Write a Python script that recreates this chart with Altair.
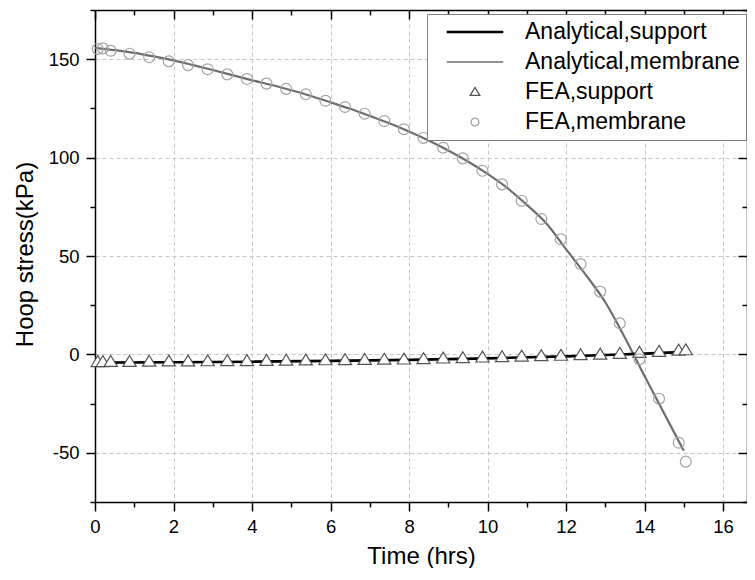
import altair as alt
import pandas as pd

# ---------------- data ----------------
series_names = ["Analytical,support", "Analytical,membrane", "FEA,support", "FEA,membrane"]

# analytical membrane curve
line_mem_t = [0, 0.5, 1, 1.5, 2, 2.5, 3, 3.5, 4, 4.5, 5, 5.5, 6, 6.5, 7, 7.5,
              8, 8.5, 9, 9.5, 10, 10.5, 11, 11.5, 12, 12.5, 13, 13.5, 14, 14.5, 15]
line_mem_v = [155.8, 154.6, 153.2, 151.4, 149.4, 147.0, 144.5, 141.9, 139.3, 136.9,
              134.2, 131.3, 128.1, 124.8, 121.2, 117.5, 113.3, 108.7, 103.6, 98.0,
              91.7, 84.6, 76.0, 66.5, 53.5, 40.5, 26.5, 8.5, -11.0, -30.0, -49.0]

# analytical support curve
line_sup_t = [0, 2, 4, 6, 8, 10, 12, 13, 14, 15.05]
line_sup_v = [-4.2, -4.0, -3.7, -3.3, -2.8, -2.0, -1.0, -0.3, 0.4, 1.3]

# FEA results
fea_t = [0.07, 0.2, 0.4, 0.88, 1.38, 1.88, 2.37, 2.87, 3.37, 3.87, 4.37, 4.87,
         5.37, 5.87, 6.37, 6.87, 7.37, 7.87, 8.37, 8.87, 9.37, 9.87, 10.37, 10.87,
         11.37, 11.87, 12.37, 12.87, 13.37, 13.87, 14.37, 14.87, 15.05]
fea_mem_v = [155.2, 155.5, 154.3, 152.8, 151.0, 148.9, 147.0, 144.9, 142.3, 139.9,
             137.6, 134.9, 132.2, 128.9, 125.7, 122.3, 118.6, 114.4, 110.0, 105.0,
             99.6, 93.3, 86.4, 78.1, 68.8, 58.5, 45.9, 31.9, 15.8, -2.5, -22.5,
             -44.9, -54.5]
fea_sup_v = [-3.8, -3.8, -3.7, -3.7, -3.6, -3.5, -3.5, -3.4, -3.3, -3.3, -3.2,
             -3.1, -3.0, -2.9, -2.8, -2.7, -2.6, -2.5, -2.3, -2.0, -1.8, -1.5,
             -1.3, -1.0, -0.8, -0.6, -0.3, 0.0, 0.4, 0.9, 1.4, 2.0, 2.2]

x_ticks = list(range(0, 17))
y_ticks = list(range(-75, 176, 25))

# ---------------- tables ----------------
mem_df = pd.DataFrame({"t": line_mem_t, "v": line_mem_v})
sup_df = pd.DataFrame({"t": line_sup_t, "v": line_sup_v})
fea_df = pd.DataFrame({
    "t": fea_t + fea_t,
    "v": fea_sup_v + fea_mem_v,
    "series": ["FEA,support"] * len(fea_t) + ["FEA,membrane"] * len(fea_t),
})

FONT = "Liberation Sans"
xscale = alt.Scale(domain=[0, 16.61], nice=False, zero=False)
yscale = alt.Scale(domain=[-75, 175], nice=False, zero=False)
XM = "datum.value % 2 === 0"
YM = "datum.value % 50 === 0"

common = dict(domainColor="black", domainWidth=1.5, tickColor="black", tickWidth=1.5,
              labelFont=FONT, labelFontSize=18.5, labelColor="black",
              labelFlush=False, labelOverlap=False)

bottom_axis = alt.Axis(
    orient="bottom", values=x_ticks,
    labelExpr=f"{XM} ? '' + datum.value : ''",
    tickSize={"condition": {"test": XM, "value": 9}, "value": 5},
    labelPadding=6,
    grid=True, gridColor="#c4c4c4", gridDash=[4, 3], gridWidth=1,
    gridOpacity={"condition": {"test": XM, "value": 1}, "value": 0},
    title="Time (hrs)", titleFont=FONT, titleFontSize=24, titleFontWeight="normal",
    titleColor="black", titleY=61, titleBaseline="alphabetic",
    **common)

left_axis = alt.Axis(
    orient="left", values=y_ticks,
    labelExpr=f"{YM} ? '' + datum.value : ''",
    tickSize={"condition": {"test": YM, "value": 9}, "value": 5},
    labelPadding=7,
    grid=True, gridColor="#c4c4c4", gridDash=[4, 3], gridWidth=1,
    gridOpacity={"condition": {"test": YM, "value": 1}, "value": 0},
    title="Hoop stress(kPa)", titleFont=FONT, titleFontSize=24, titleFontWeight="normal",
    titleColor="black", titleAngle=270, titleX=-70, titleY=244,
    titleAlign="center", titleBaseline="middle",
    **common)

top_axis = alt.Axis(
    orient="top", values=x_ticks, labels=False, grid=False, title=None,
    tickSize={"condition": {"test": XM, "value": -9}, "value": -5},
    domainColor="black", domainWidth=1.5, tickColor="black", tickWidth=1.5)

right_axis = alt.Axis(
    orient="right", values=y_ticks, labels=False, grid=False, title=None,
    tickSize={"condition": {"test": YM, "value": -9}, "value": -5},
    domainColor="black", domainWidth=1.5, tickColor="black", tickWidth=1.5)

mem_line = alt.Chart(mem_df).mark_line(color="#6e6e6e", strokeWidth=2.2, interpolate="monotone").encode(
    x=alt.X("t:Q", scale=xscale, axis=bottom_axis),
    y=alt.Y("v:Q", scale=yscale, axis=left_axis),
)

sup_line = alt.Chart(sup_df).mark_line(color="black", strokeWidth=2.6).encode(
    x=alt.X("t:Q", scale=xscale, axis=top_axis),
    y=alt.Y("v:Q", scale=yscale, axis=right_axis),
)

# legend / marker shapes (paths in the unit square)
shape_sup = "M-1,-0.02L1,-0.02M-1,0.02L1,0.02"
shape_mem = "M-1,0L1,0"
shape_tri = "M0,-0.16L0.17,0.12L-0.17,0.12Z"
shape_cir = "M0.14,0A0.14,0.14 0 1,1 -0.14,0A0.14,0.14 0 1,1 0.14,0Z"

legend = alt.Legend(
    orient="none", legendX=332, legendY=4, title=None,
    fillColor="white", strokeColor="#808080", padding=6,
    symbolSize=3200, symbolOffset=13, labelOffset=21, clipHeight=24, rowPadding=6,
    labelFont=FONT, labelFontSize=23, labelColor="black", labelLimit=500,
    symbolStrokeWidth=1.3,
)

points = alt.Chart(fea_df).mark_point(size=6050, opacity=1, strokeWidth=1.2, filled=False).encode(
    x=alt.X("t:Q", scale=xscale, axis=None),
    y=alt.Y("v:Q", scale=yscale, axis=None),
    color=alt.Color("series:N", scale=alt.Scale(domain=series_names,
                    range=["black", "#6e6e6e", "#555555", "#a3a3a3"]), legend=legend),
    shape=alt.Shape("series:N", scale=alt.Scale(domain=series_names,
                    range=[shape_sup, shape_mem, shape_tri, shape_cir]), legend=legend),
    fill=alt.condition("datum.series === 'FEA,support'", alt.value("white"), alt.value("transparent")),
)

chart = alt.layer(mem_line, sup_line, points).resolve_axis(
    x="independent", y="independent"
).properties(
    width=652, height=492,
    autosize=alt.AutoSizeParams(type="none"),
    padding={"left": 87, "top": 2, "right": 0, "bottom": 66},
    background="white",
).configure_view(stroke=None)

chart.save("out.html", embed_options={"renderer": "svg", "actions": False})
